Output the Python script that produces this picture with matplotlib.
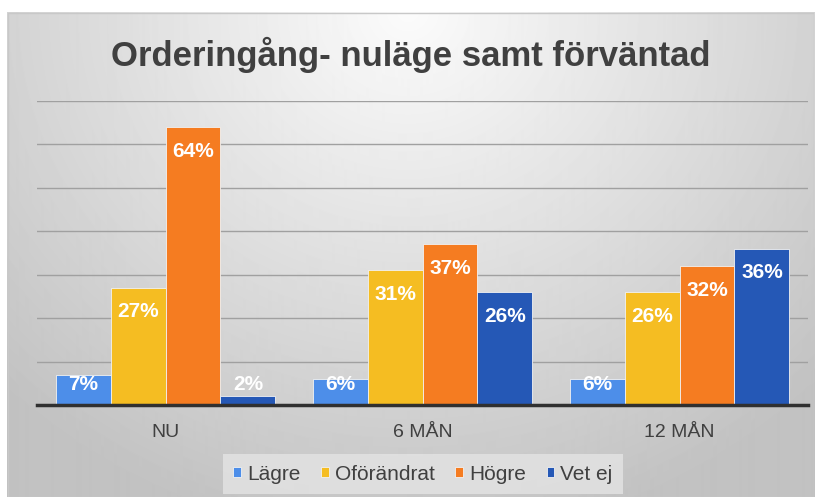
import numpy as np
import matplotlib.pyplot as plt
from matplotlib.patches import Rectangle

# data
categories = ["NU", "6 MÅN", "12 MÅN"]
series = ["Lägre", "Oförändrat", "Högre", "Vet ej"]
lagre = [7, 6, 6]
oforandrat = [27, 31, 26]
hogre = [64, 37, 32]
vet_ej = [2, 26, 36]
colors = ["#4d8ee9", "#f5bd22", "#f57c21", "#2558b6"]

plt.rcParams['font.family'] = ['Liberation Sans', 'DejaVu Sans']

W, H = 822, 497
fig = plt.figure(figsize=(W / 100, H / 100), dpi=100)
fig.patch.set_facecolor("white")

# chart area background: radial gradient, light at top centre
bg = fig.add_axes([7 / W, 0, (814 - 7) / W, (H - 12) / H])
yy, xx = np.mgrid[0:485, 0:807]
d = np.sqrt(((xx - 400) / 560.0) ** 2 + ((yy - 0) / 520.0) ** 2)
shade = np.clip(0.985 - 0.22 * d, 0.76, 1)
bg.imshow(shade, cmap="gray", vmin=0, vmax=1, aspect="auto", interpolation="bilinear")
bg.set_axis_off()
bg.add_patch(Rectangle((0, 0), 806, 484, fill=False, edgecolor="#c8c8c8", lw=1))

ax = fig.add_axes([37 / W, 1 - 405 / H, (808 - 37) / W, (405 - 101) / H])
ax.set_facecolor("none")

ymax = 70
px_per_unit = (405 - 101) / ymax

x = np.arange(len(categories))
width = 0.214
vals = [lagre, oforandrat, hogre, vet_ej]
for i, (name, v, c) in enumerate(zip(series, vals, colors)):
    pos = x + (i - 1.5) * width
    bars = ax.bar(pos, v, width, color=c, edgecolor="#f2f2f2", linewidth=0.6, label=name, zorder=3)
    for b, val in zip(bars, v):
        # label sits inside the top of the bar, but never lower than near the baseline
        ylab = max(val - 24 / px_per_unit, 21 / px_per_unit)
        ax.text(b.get_x() + b.get_width() / 2, ylab, f"{val}%", ha="center", va="center",
                color="white", fontsize=15, fontweight="bold", zorder=4)

ax.set_ylim(0, ymax)
ax.set_xlim(-0.5, 2.5)
ax.set_yticks(np.arange(0, ymax + 1, 10))
ax.yaxis.grid(True, color="#a0a0a0", lw=1)
ax.set_axisbelow(True)
ax.tick_params(axis="y", left=False, labelleft=False)
ax.tick_params(axis="x", length=0, labelsize=14, labelcolor="#404040", pad=14)
ax.set_xticks(x)
ax.set_xticklabels(categories)
for s in ["top", "right", "left"]:
    ax.spines[s].set_visible(False)
ax.spines["bottom"].set_color("#303030")
ax.spines["bottom"].set_linewidth(2.5)
ax.spines["bottom"].set_zorder(5)

fig.text(0.5, 1 - 55 / H, "Orderingång- nuläge samt förväntad", ha="center", va="center",
         fontsize=25, fontweight="bold", color="#404040")

leg = fig.legend(loc="center", bbox_to_anchor=(423 / W, 1 - 474 / H), ncol=4,
                 frameon=True, fontsize=15, handlelength=0.35, handleheight=0.35,
                 handletextpad=0.3, columnspacing=1.0, borderpad=0.5)
leg.get_frame().set_facecolor("#e4e4e4")
leg.get_frame().set_edgecolor("none")
leg.get_frame().set_boxstyle("square", pad=0)
for t in leg.get_texts():
    t.set_color("#404040")

fig.savefig("out.png", dpi=100)
